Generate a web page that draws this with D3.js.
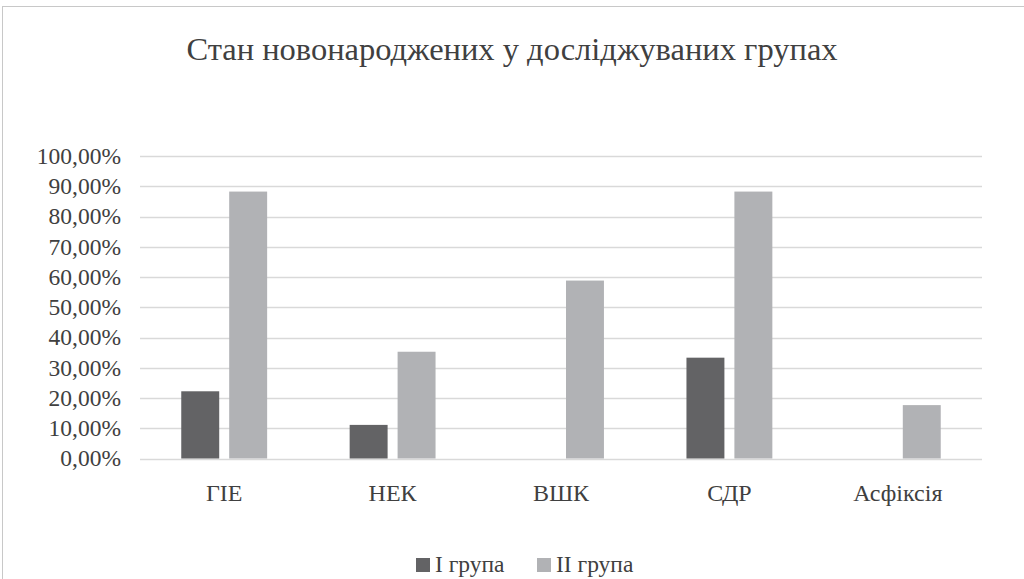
<!DOCTYPE html>
<html>
<head>
<meta charset="utf-8">
<script src="https://cdn.jsdelivr.net/npm/d3@7"></script>
<style>
  body { margin: 0; background: #fff; }
</style>
</head>
<body>
<div id="container"></div>
<script>
/* DATA */
const categories = ["ГІЕ", "НЕК", "ВШК", "СДР", "Асфіксія"]
const seriesNames = ["І група", "ІІ група"]
const group1 = [0.2222, 0.1111, 0, 0.3333, 0]
const group2 = [0.8824, 0.3529, 0.5882, 0.8824, 0.1765]
const yTicks = [0, 0.1, 0.2, 0.3, 0.4, 0.5, 0.6, 0.7, 0.8, 0.9, 1.0]
const title = "Стан новонароджених у досліджуваних групах"

/* CONSTANTS */
const width = 1024, height = 579
const margin = { top: 156, bottom: 121, left: 140, right: 42 }
const colors = ["#636365", "#b1b2b5"]
const font = "Liberation Serif"
const textColor = "#404040"

const svg = d3.select("#container")
  .append("svg")
  .attr("width", width)
  .attr("height", height)
  .attr("font-family", font)

// chart border
svg.append("rect")
  .attr("x", 2.5).attr("y", 6.5)
  .attr("width", width + 10).attr("height", height + 10)
  .attr("fill", "none")
  .attr("stroke", "#c8c8c8")

// SCALES
const yScale = d3.scaleLinear()
  .domain([0, 1])
  .range([height - margin.bottom + 0.5, margin.top])

const xScale = d3.scaleBand()
  .domain(categories)
  .range([margin.left, width - margin.right])
  .padding(0)

const groupW = xScale.bandwidth() * 0.51
const x1 = d3.scaleBand()
  .domain(seriesNames)
  .range([(xScale.bandwidth() - groupW) / 2, (xScale.bandwidth() + groupW) / 2])
  .paddingInner(10 / 48)

// GRIDLINES
svg.append("g")
  .selectAll("line")
  .data(yTicks)
  .join("line")
  .attr("x1", margin.left)
  .attr("x2", width - margin.right)
  .attr("y1", d => Math.round(yScale(d)) + 0.5)
  .attr("y2", d => Math.round(yScale(d)) + 0.5)
  .attr("stroke", "#d9d9d9")
  .attr("stroke-width", 1.3)

// Y AXIS labels
const fmt = d => d3.format(".2f")(d * 100).replace(".", ",") + "%"
svg.append("g")
  .selectAll("text")
  .data(yTicks)
  .join("text")
  .attr("x", 121)
  .attr("y", d => yScale(d))
  .attr("dy", "0.33em")
  .attr("text-anchor", "end")
  .attr("font-family", font)
  .attr("font-size", 23.5)
  .attr("fill", textColor)
  .text(fmt)

// BARS
const rows = categories.map((c, i) => ({ cat: c, vals: [group1[i], group2[i]] }))
const groups = svg.append("g")
  .selectAll("g")
  .data(rows)
  .join("g")
  .attr("transform", d => `translate(${xScale(d.cat)},0)`)

groups.selectAll("rect")
  .data(d => d.vals.map((v, j) => ({ name: seriesNames[j], v, j })))
  .join("rect")
  .attr("x", d => x1(d.name))
  .attr("width", x1.bandwidth())
  .attr("y", d => yScale(d.v))
  .attr("height", d => yScale(0) - yScale(d.v))
  .attr("fill", d => colors[d.j])

// X labels
svg.append("g")
  .selectAll("text")
  .data(categories)
  .join("text")
  .attr("x", d => xScale(d) + xScale.bandwidth() / 2)
  .attr("y", 501)
  .attr("text-anchor", "middle")
  .attr("font-family", font)
  .attr("font-size", 24)
  .attr("fill", textColor)
  .text(d => d)

// TITLE
svg.append("text")
  .attr("x", 512)
  .attr("y", 60)
  .attr("text-anchor", "middle")
  .attr("font-family", font)
  .attr("font-size", 32.5)
  .attr("fill", textColor)
  .text(title)

// LEGEND
const legend = svg.append("g")
const legendX = [416, 537]
seriesNames.forEach((s, i) => {
  legend.append("rect")
    .attr("x", legendX[i]).attr("y", 558)
    .attr("width", 14).attr("height", 14)
    .attr("fill", colors[i])
  legend.append("text")
    .attr("x", legendX[i] + 19)
    .attr("y", 572)
    .attr("font-family", font)
    .attr("font-size", 23.5)
    .attr("fill", textColor)
    .text(s)
})
</script>
</body>
</html>
